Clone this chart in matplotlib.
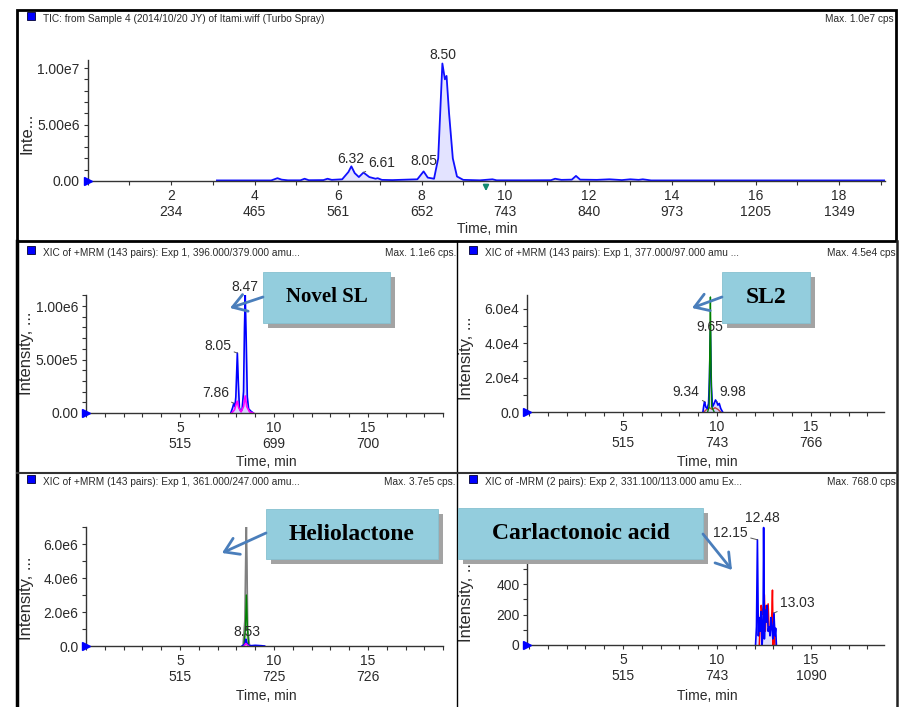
import matplotlib
matplotlib.use('Agg')
import matplotlib.pyplot as plt
from matplotlib.ticker import MultipleLocator, FixedLocator, FixedFormatter
from matplotlib.patches import Rectangle, FancyArrowPatch

# ------------------------------------------------------------------ data
# TIC (top panel), intensity in cps
tic_time = [3.10, 4.40, 4.55, 4.65, 4.80, 5.10, 5.20, 5.30, 5.65, 5.75, 5.85, 6.10,
            6.25, 6.32, 6.40, 6.50, 6.61, 6.75, 6.90, 6.95, 7.05, 7.30, 7.90, 8.05,
            8.15, 8.30, 8.40, 8.50, 8.56, 8.60, 8.66, 8.75, 8.85, 9.00, 9.40, 9.70,
            9.80, 10.50, 11.10, 11.20, 11.35, 11.60, 11.70, 11.80, 12.20, 12.50, 12.80,
            13.00, 13.20, 13.30, 13.50, 19.10]
tic_int = [0.05e6, 0.05e6, 0.25e6, 0.12e6, 0.06e6, 0.06e6, 0.20e6, 0.07e6, 0.08e6,
           0.20e6, 0.10e6, 0.15e6, 0.80e6, 1.30e6, 0.70e6, 0.35e6, 0.75e6, 0.35e6,
           0.20e6, 0.25e6, 0.10e6, 0.08e6, 0.15e6, 0.85e6, 0.30e6, 0.20e6, 2.00e6,
           10.4e6, 9.00e6, 9.30e6, 6.00e6, 2.00e6, 0.40e6, 0.10e6, 0.06e6, 0.15e6,
           0.06e6, 0.06e6, 0.07e6, 0.20e6, 0.10e6, 0.12e6, 0.45e6, 0.12e6, 0.10e6,
           0.15e6, 0.08e6, 0.15e6, 0.10e6, 0.15e6, 0.05e6, 0.05e6]
tic_xticks = [2, 4, 6, 8, 10, 12, 14, 16, 18]
tic_scans = ['234', '465', '561', '652', '743', '840', '973', '1205', '1349']
tic_yticks = [0, 5e6, 1e7]
tic_ylabels = ['0.00', '5.00e6', '1.00e7']

# Novel SL (396/379)
nsl_blue_t = [7.70, 7.80, 7.86, 7.92, 7.97, 8.05, 8.10, 8.16, 8.22, 8.30, 8.38, 8.43,
              8.47, 8.52, 8.58, 8.65, 8.75, 8.90]
nsl_blue_i = [0.0, 0.5e5, 0.9e5, 0.6e5, 1.5e5, 5.6e5, 3.0e5, 0.5e5, 0.2e5, 0.3e5,
              2.0e5, 8.0e5, 11.0e5, 7.0e5, 1.5e5, 0.4e5, 0.2e5, 0.0]
nsl_mag_t = [7.75, 7.90, 8.00, 8.05, 8.12, 8.25, 8.38, 8.47, 8.55, 8.70, 8.90]
nsl_mag_i = [0.0, 0.3e5, 0.9e5, 1.1e5, 0.5e5, 0.1e5, 0.6e5, 1.6e5, 0.6e5, 0.1e5, 0.0]
nsl_scans = ['515', '699', '700']
nsl_yticks = [0, 5e5, 1e6]
nsl_ylabels = ['0.00', '5.00e5', '1.00e6']

# SL2 (377/97)
sl2_blue_t = [9.25, 9.30, 9.34, 9.40, 9.48, 9.55, 9.60, 9.65, 9.70, 9.76, 9.85, 9.92,
              9.98, 10.05, 10.12, 10.20, 10.30]
sl2_blue_i = [0, 4e3, 6e3, 3e3, 2e3, 5e3, 20e3, 47e3, 15e3, 3e3, 5e3, 7e3, 6e3, 4e3,
              5e3, 2e3, 0]
sl2_green_t = [9.50, 9.58, 9.62, 9.65, 9.68, 9.72, 9.85]
sl2_green_i = [0, 3e3, 40e3, 67e3, 30e3, 3e3, 0]
sl2_red_t = [9.30, 9.45, 9.60, 9.75, 9.90, 10.05, 10.20]
sl2_red_i = [0, 1.5e3, 2.5e3, 1.5e3, 2.5e3, 1.5e3, 0]
sl2_scans = ['515', '743', '766']
sl2_yticks = [0, 2e4, 4e4, 6e4]
sl2_ylabels = ['0.0', '2.0e4', '4.0e4', '6.0e4']

# Heliolactone (361/247)
hel_gray_t = [8.35, 8.45, 8.50, 8.53, 8.56, 8.60, 8.70]
hel_gray_i = [0, 1.5e6, 5.5e6, 7.0e6, 5.0e6, 1.0e6, 0]
hel_green_t = [8.40, 8.48, 8.53, 8.58, 8.65]
hel_green_i = [0, 1.0e6, 3.0e6, 1.2e6, 0]
hel_blue_t = [8.30, 8.45, 8.50, 8.55, 8.62, 8.80, 9.00, 9.30, 9.50]
hel_blue_i = [0, 0.1e6, 0.4e6, 0.2e6, 0.05e6, 0.02e6, 0.04e6, 0.02e6, 0]
hel_mag_t = [8.40, 8.50, 8.55, 8.65]
hel_mag_i = [0, 0.15e6, 0.1e6, 0]
hel_scans = ['515', '725', '726']
hel_yticks = [0, 2e6, 4e6, 6e6]
hel_ylabels = ['0.0', '2.0e6', '4.0e6', '6.0e6']

# Carlactonoic acid (331.1/113)
cla_blue_t = [12.05, 12.10, 12.15, 12.20, 12.25, 12.30, 12.35, 12.40, 12.45, 12.48,
              12.52, 12.57, 12.62, 12.67, 12.72, 12.77, 12.82, 12.87, 12.92, 12.97,
              13.03, 13.08, 13.12, 13.16]
cla_blue_i = [0, 120, 690, 60, 180, 90, 220, 0, 120, 770, 40, 230, 150, 260, 90, 120,
              60, 180, 110, 40, 210, 60, 110, 0]
cla_red_t = [12.25, 12.30, 12.35, 12.40, 12.45, 12.52, 12.57, 12.62, 12.67, 12.72,
             12.77, 12.82, 12.87, 12.92, 12.95, 12.99, 13.03, 13.08]
cla_red_i = [0, 150, 260, 220, 200, 330, 90, 260, 150, 270, 100, 110, 100, 220, 360,
             0, 200, 0]
cla_scans = ['515', '743', '1090']
cla_yticks = [0, 200, 400, 600]
cla_ylabels = ['0', '200', '400', '600']

xic_xticks = [5, 10, 15]

# ------------------------------------------------------------------ style
W, H = 902, 707
SANS = ['Liberation Sans', 'DejaVu Sans']
SERIF = ['Liberation Serif', 'DejaVu Serif']
TXT = '#2a2a2a'
TICK_FS = 10
plt.rcParams['font.family'] = SANS

fig = plt.figure(figsize=(W / 100, H / 100), dpi=100)
fig.patch.set_facecolor('white')


def make_axes(x_zero, ppm, xlim, y_zero, ppu, ylim):
    x0 = x_zero + xlim[0] * ppm
    x1 = x_zero + xlim[1] * ppm
    yt = y_zero - ylim[1] * ppu
    ax = fig.add_axes([x0 / W, 1 - y_zero / H, (x1 - x0) / W, (y_zero - yt) / H])
    ax.set_xlim(*xlim)
    ax.set_ylim(*ylim)
    ax.patch.set_alpha(0)
    for s in ('top', 'right'):
        ax.spines[s].set_visible(False)
    for s in ('left', 'bottom'):
        ax.spines[s].set_color('#333333')
        ax.spines[s].set_linewidth(1.0)
    ax.tick_params(which='both', direction='out', length=3, width=0.8,
                   color='#333333', labelsize=TICK_FS, labelcolor=TXT, pad=2.5)
    ax.plot([xlim[0]], [0], marker='>', color='#0000ff', ms=6, clip_on=False, zorder=6)
    return ax


def set_ticks(ax, xmaj, scans, xminor, ymaj, ylabs, yminor):
    ax.xaxis.set_major_locator(FixedLocator(xmaj))
    ax.xaxis.set_major_formatter(FixedFormatter([f"{m}\n{s}" for m, s in zip(xmaj, scans)]))
    ax.xaxis.set_minor_locator(MultipleLocator(xminor))
    ax.yaxis.set_major_locator(FixedLocator(ymaj))
    ax.yaxis.set_major_formatter(FixedFormatter(ylabs))
    ax.yaxis.set_minor_locator(MultipleLocator(yminor))


def peak_label(ax, text, t, v, dx, dy, ha='center', leader=False):
    kw = {}
    if leader:
        kw['arrowprops'] = dict(arrowstyle='-', color='#555555', lw=0.7,
                                shrinkA=0, shrinkB=0)
    ax.annotate(text, xy=(t, v), xytext=(dx * 0.72, dy * 0.72),
                textcoords='offset points', ha=ha, va='center', fontsize=TICK_FS,
                color=TXT, annotation_clip=False, zorder=7, **kw)


# ------------------------------------------------------------------ top TIC
ax0 = make_axes(87.5, 41.75, (0, 19.1), 181, 113 / 1e7, (0, 1.07e7))
set_ticks(ax0, tic_xticks, tic_scans, 1, tic_yticks, tic_ylabels, 1e6)
ax0.plot(tic_time, tic_int, color='#1010ff', lw=1.3)
ax0.fill_between(tic_time, tic_int, color='#c8c8ff', alpha=0.5, lw=0)
peak_label(ax0, '8.50', 8.50, 10.4e6, 0, 8.5)
peak_label(ax0, '6.32', 6.32, 1.30e6, -1, 7)
peak_label(ax0, '6.61', 6.61, 0.75e6, 5, 9.5, ha='left', leader=True)
peak_label(ax0, '8.05', 8.05, 0.85e6, 0, 10)

# ------------------------------------------------------------------ Novel SL
ax1 = make_axes(86, 18.8, (0, 19.0), 413, 107 / 1e6, (0, 1.1e6))
set_ticks(ax1, xic_xticks, nsl_scans, 1, nsl_yticks, nsl_ylabels, 1e5)
ax1.fill_between(nsl_blue_t, nsl_blue_i, color='#b0b0ff', alpha=0.5, lw=0)
ax1.plot(nsl_blue_t, nsl_blue_i, color='#0000ff', lw=1.2)
ax1.plot(nsl_mag_t, nsl_mag_i, color='#ff00ff', lw=1.2)
peak_label(ax1, '8.47', 8.47, 11.0e5, 0, 8)
peak_label(ax1, '8.05', 8.05, 5.6e5, -6, 7, ha='right', leader=True)
peak_label(ax1, '7.86', 7.86, 0.9e5, -5, 10, ha='right', leader=True)

# ------------------------------------------------------------------ SL2
ax2 = make_axes(529, 18.8, (-0.1, 18.9), 412, 103 / 6e4, (0, 6.8e4))
set_ticks(ax2, xic_xticks, sl2_scans, 1, sl2_yticks, sl2_ylabels, 1e4)
ax2.plot(sl2_red_t, sl2_red_i, color='#c04040', lw=1.0)
ax2.fill_between(sl2_blue_t, sl2_blue_i, color='#b0b0ff', alpha=0.5, lw=0)
ax2.plot(sl2_blue_t, sl2_blue_i, color='#0000ff', lw=1.2)
ax2.plot(sl2_green_t, sl2_green_i, color='#008000', lw=1.0)
peak_label(ax2, '9.65', 9.65, 47e3, -1, 4)
peak_label(ax2, '9.34', 9.34, 6e3, -5, 10, ha='right', leader=True)
peak_label(ax2, '9.98', 9.98, 6e3, 3, 10, ha='left', leader=True)

# ------------------------------------------------------------------ Heliolactone
ax3 = make_axes(86, 18.8, (0, 19.0), 646, 17 / 1e6, (0, 7.0e6))
set_ticks(ax3, xic_xticks, hel_scans, 1, hel_yticks, hel_ylabels, 1e6)
ax3.fill_between(hel_gray_t, hel_gray_i, color='#d4d4d4', lw=0)
ax3.plot(hel_gray_t, hel_gray_i, color='#808080', lw=1.2)
ax3.plot(hel_green_t, hel_green_i, color='#008000', lw=1.0)
ax3.plot(hel_blue_t, hel_blue_i, color='#0000ff', lw=1.2)
ax3.plot(hel_mag_t, hel_mag_i, color='#ff00ff', lw=1.0)
peak_label(ax3, '8.53', 8.50, 0.4e6, 1, 7)

# ------------------------------------------------------------------ Carlactonoic acid
ax4 = make_axes(529, 18.8, (-0.1, 18.9), 645, 30.5 / 200, (0, 780))
set_ticks(ax4, xic_xticks, cla_scans, 1, cla_yticks, cla_ylabels, 100)
ax4.fill_between(cla_blue_t, cla_blue_i, color='#c0c0ff', alpha=0.5, lw=0)
ax4.plot(cla_red_t, cla_red_i, color='#ff0000', lw=1.1)
ax4.plot(cla_blue_t, cla_blue_i, color='#0000ff', lw=1.2)
peak_label(ax4, '12.15', 12.15, 690, -9.5, 7, ha='right', leader=True)
peak_label(ax4, '12.48', 12.48, 770, -1.5, 9.5)
peak_label(ax4, '13.03', 13.03, 210, 6, 10, ha='left', leader=True)

# ------------------------------------------------------------------ overlay (frames, headers, callouts)
ov = fig.add_axes([0, 0, 1, 1])
ov.set_xlim(0, W)
ov.set_ylim(H, 0)
ov.axis('off')
ov.set_zorder(10)

ov.add_patch(Rectangle((17, 10), 879, 231, fill=False, lw=2.0, ec='black'))
ov.plot([17, 17], [241, 707], lw=2.5, color='black')
ov.plot([897, 897], [241, 707], lw=1.8, color='#222222')
ov.plot([457, 457], [241, 707], lw=1.0, color='black')
ov.plot([17, 897], [473, 473], lw=1.5, color='#333333')

headers = [
    (43, 19, 'TIC: from Sample 4 (2014/10/20 JY) of Itami.wiff (Turbo Spray)', 894, 'Max. 1.0e7 cps'),
    (43, 253, 'XIC of +MRM (143 pairs): Exp 1, 396.000/379.000 amu...', 456, 'Max. 1.1e6 cps.'),
    (485, 253, 'XIC of +MRM (143 pairs): Exp 1, 377.000/97.000 amu ...', 896, 'Max. 4.5e4 cps'),
    (43, 482, 'XIC of +MRM (143 pairs): Exp 1, 361.000/247.000 amu...', 456, 'Max. 3.7e5 cps.'),
    (485, 482, 'XIC of -MRM (2 pairs): Exp 2, 331.100/113.000 amu Ex...', 896, 'Max. 768.0 cps'),
]
for hx, hy, htxt, mx, mtxt in headers:
    ov.add_patch(Rectangle((hx - 16, hy - 7), 8, 8, fc='#0000ff', ec='#000033', lw=0.6))
    ov.text(hx, hy, htxt, fontsize=7.3, ha='left', va='center', color=TXT)
    ov.text(mx, hy, mtxt, fontsize=7.3, ha='right', va='center', color=TXT)

for ylx, yly, ytxt in [(27, 133, 'Inte...'), (27, 353, 'Intensity, ...'),
                       (467, 358, 'Intensity, ...'), (27, 598, 'Intensity, ...'),
                       (467, 600, 'Intensity, ...')]:
    ov.text(ylx, yly, ytxt, rotation=90, fontsize=12, ha='center',
            va='center', color=TXT, zorder=1)

for tx, ty in [(487, 229), (266, 462), (707, 462), (266, 696), (707, 696)]:
    ov.text(tx, ty, 'Time, min', fontsize=TICK_FS, ha='center', va='center', color=TXT)

ov.annotate('', xy=(486, 194), xytext=(486, 184),
            arrowprops=dict(arrowstyle='-|>', color='#138a72', lw=1.4, mutation_scale=8))

callouts = [
    ((263, 272, 390, 323), 'Novel SL', 15, (263, 297), (230, 308)),
    ((722, 272, 810, 323), 'SL2', 17, (722, 297), (692, 308)),
    ((266, 509, 438, 559), 'Heliolactone', 17, (266, 533), (222, 553)),
    ((458, 508, 703, 559), 'Carlactonoic acid', 17, (703, 534), (732, 570)),
]
for (bx0, by0, bx1, by1), ctxt, cfs, a_from, a_to in callouts:
    ov.add_patch(Rectangle((bx0 + 5, by0 + 5), bx1 - bx0, by1 - by0, fc='#a3a3a3',
                           ec='none', zorder=4))
    ov.add_patch(Rectangle((bx0, by0), bx1 - bx0, by1 - by0, fc='#93cddd',
                           ec='#86c0d0', lw=0.6, zorder=5))
    ov.text((bx0 + bx1) / 2, (by0 + by1) / 2, ctxt, fontsize=cfs, family=SERIF,
            fontweight='bold', ha='center', va='center', color='black', zorder=6)
    ov.add_patch(FancyArrowPatch(a_from, a_to, arrowstyle='->,head_length=0.7,head_width=0.45',
                                 mutation_scale=14, color='#4a7ebb', lw=2.0, zorder=6,
                                 shrinkA=0, shrinkB=0))

fig.savefig('out.png', dpi=100)
